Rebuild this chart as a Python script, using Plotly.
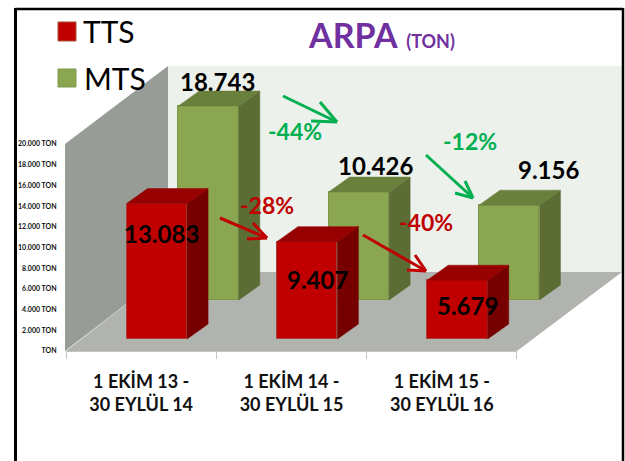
import plotly.graph_objects as go

# ---- data ----
categories = ["1 EKİM 13 -<br>30 EYLÜL 14", "1 EKİM 14 -<br>30 EYLÜL 15", "1 EKİM 15 -<br>30 EYLÜL 16"]
tts_values = [13083, 9407, 5679]
mts_values = [18743, 10426, 9156]
tts_labels = ["13.083", "9.407", "5.679"]
mts_labels = ["18.743", "10.426", "9.156"]
y_ticks = [0, 2000, 4000, 6000, 8000, 10000, 12000, 14000, 16000, 18000, 20000]
y_ticklabels = ["TON", "2.000 TON", "4.000 TON", "6.000 TON", "8.000 TON", "10.000 TON",
                "12.000 TON", "14.000 TON", "16.000 TON", "18.000 TON", "20.000 TON"]

# ---- page geometry (pixels) ----
W, H = 625, 461
L, R, T, B = 66, 623, 66, 351
PX_PER_CAT = 150.33
PX_PER_UNIT = 0.01035
x_pos = [1, 2, 3]
x_range = [0.5, 0.5 + (R - L) / PX_PER_CAT]
y_range = [0, (B - T) / PX_PER_UNIT]

def px(x):
    return (x - L) / (R - L)
def py(y):
    return (B - y) / (B - T)

# 3-D look: depth offsets of the oblique projection
DX = 21 / PX_PER_CAT
DY = 15 / PX_PER_UNIT
BAR_W = 60.5 / PX_PER_CAT
TTS_BASE = 12 / PX_PER_UNIT
MTS_BASE = 51 / PX_PER_UNIT
TTS_OFF = -0.097
MTS_OFF = 0.247

RED = dict(front="#C00000", top="#960000", side="#760000", edge="#A8403A")
GREEN = dict(front="#8BA650", top="#697F3C", side="#5B6C34", edge="#7F9848")

fig = go.Figure()

def faces(values, base, off, c):
    fig.add_trace(go.Bar(x=x_pos, y=values, base=[base] * len(values), offset=off, width=BAR_W,
                         marker=dict(color=c["front"], line=dict(color=c["edge"], width=1)),
                         showlegend=False, hoverinfo="skip"))

def depth(values, base, off, c):
    for xc, v in zip(x_pos, values):
        x0 = xc + off
        x1 = x0 + BAR_W
        y0 = base
        y1 = base + v
        fig.add_trace(go.Scatter(x=[x1, x1 + DX, x1 + DX, x1, x1], y=[y0, y0 + DY, y1 + DY, y1, y0],
                                 mode="lines", fill="toself", fillcolor=c["side"],
                                 line=dict(color=c["side"], width=0.5), showlegend=False, hoverinfo="skip"))
        fig.add_trace(go.Scatter(x=[x0, x0 + DX, x1 + DX, x1, x0], y=[y1, y1 + DY, y1 + DY, y1, y1],
                                 mode="lines", fill="toself", fillcolor=c["top"],
                                 line=dict(color=c["top"], width=0.5), showlegend=False, hoverinfo="skip"))

faces(mts_values, MTS_BASE, MTS_OFF, GREEN)
faces(tts_values, TTS_BASE, TTS_OFF, RED)
depth(mts_values, MTS_BASE, MTS_OFF, GREEN)
depth(tts_values, TTS_BASE, TTS_OFF, RED)

shapes = []
def poly(points, fill, line=None, width=0, layer="below"):
    path = "M " + " L ".join(f"{px(a):.5f},{py(b):.5f}" for a, b in points) + " Z"
    shapes.append(dict(type="path", path=path, xref="paper", yref="paper", fillcolor=fill,
                       line=dict(color=line or fill, width=width), layer=layer))
def seg(x0, y0, x1, y1, color, width, layer="above"):
    shapes.append(dict(type="line", x0=px(x0), y0=py(y0), x1=px(x1), y1=py(y1), xref="paper", yref="paper",
                       line=dict(color=color, width=width), layer=layer))

# walls and floor
poly([(168, 66), (622, 66), (622, 272), (168, 272)], "#EDF1EB")
poly([(66, 351), (517, 351), (622, 272), (168, 272)], "#B0B3AE")
poly([(65, 144), (168, 66), (168, 272), (65, 351)], "#989C97")
seg(66, 351.5, 517, 351.5, "#C4C4C4", 1.2, "below")

# frame
seg(15.5, 9, 623, 9, "#000000", 2.5)
seg(15.5, 8, 15.5, 461, "#000000", 3)
seg(623, 8, 623, 461, "#000000", 2.5)

# legend swatches
poly([(58, 22), (76, 22), (76, 41), (58, 41)], "#C00000", "#A8503A", 1, "above")
poly([(58, 69), (76, 69), (76, 87), (58, 87)], "#8BA650", "#7F9848", 1, "above")

# arrows
arrows = [
    (283, 96, 337, 122, 320, 102, 311, 121, "#00B050"),
    (426, 155, 473, 198, 465, 181, 455, 193, "#00B050"),
    (220, 218, 267, 238, 253, 223, 247, 239, "#C00000"),
    (363, 235, 426, 271, 415, 255, 407, 270, "#C00000"),
]
for x0, y0, x1, y1, bx0, by0, bx1, by1, col in arrows:
    seg(x0, y0, x1, y1, col, 3)
    seg(bx0, by0, x1, y1, col, 3)
    seg(bx1, by1, x1, y1, col, 3)

def note(text, x, y, size, color="#000000", bold=True, family="Lato"):
    fig.add_annotation(text=f"<b>{text}</b>" if bold else text, x=px(x), y=py(y), xref="paper", yref="paper",
                       showarrow=False, xanchor="center", yanchor="middle",
                       font=dict(family=family, size=size, color=color))

# legend text
note("TTS", 109, 31, 30, bold=False, family="Lato")
note("MTS", 115, 78, 30, bold=False, family="Lato")

# value labels
for t, x, y in zip(mts_labels, [217, 375, 548], [82, 165, 169]):
    note(t, x, y, 24)
for t, x, y in zip(tts_labels, [161, 317, 467], [233, 279, 305]):
    note(t, x, y, 24)

# percentage changes
note("-44%", 295, 131, 23, "#00B050")
note("-12%", 470, 141, 23, "#00B050")
note("-28%", 267, 205, 23, "#C00000")
note("-40%", 426, 222, 23, "#C00000")

fig.update_layout(
    width=W, height=H,
    margin=dict(l=L, r=W - R, t=T, b=H - B, pad=0),
    autosize=False,
    paper_bgcolor="#FFFFFF", plot_bgcolor="rgba(0,0,0,0)",
    barmode="overlay",
    bargap=0,
    showlegend=False,
    shapes=shapes,
    font=dict(family="Lato"),
    title=dict(text="<b>ARPA</b> <span style='font-size:18px'><b>(TON)</b></span>",
               x=382 / W, xanchor="center", y=1 - 36 / H, yanchor="middle",
               font=dict(family="Lato", size=34, color="#7030A0")),
    xaxis=dict(range=x_range, tickmode="array", tickvals=x_pos, ticktext=categories,
               showgrid=False, zeroline=False, showline=False,
               ticks="outside", ticklen=14, tickcolor="rgba(0,0,0,0)",
               tickfont=dict(family="Lato", size=18, color="#111111", weight=700),
               minor=dict(tickmode="array", tickvals=[0.5, 1.5, 2.5, 3.5], ticks="outside",
                          ticklen=7, tickcolor="#C4C4C4", tickwidth=1, showgrid=False)),
    yaxis=dict(range=y_range, tickmode="array", tickvals=y_ticks, ticktext=y_ticklabels,
               showgrid=False, zeroline=False, showline=False,
               ticks="outside", ticklen=7, tickcolor="rgba(0,0,0,0)",
               tickfont=dict(family="Lato", size=7, color="#111111", weight=700)),
)

fig.write_html("out.html", config=dict(displayModeBar=False),
               post_script="document.body.style.margin='0';document.body.style.overflow='hidden';")
